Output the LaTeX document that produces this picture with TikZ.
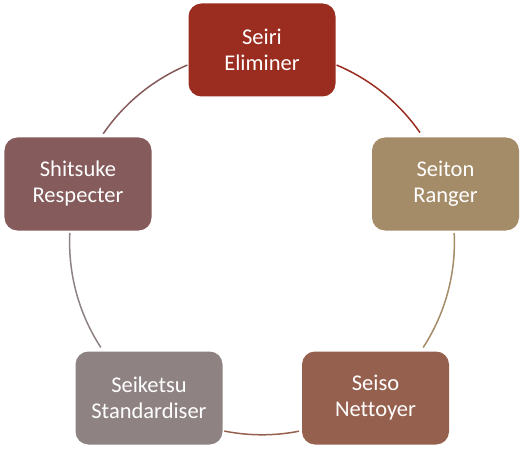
\documentclass[tikz,border=0pt]{standalone}
\usepackage{fontspec}
\setmainfont{Carlito}[Ligatures={NoCommon}]
\definecolor{cA}{HTML}{9B2D20}
\definecolor{cB}{HTML}{A58C69}
\definecolor{cC}{HTML}{96604F}
\definecolor{cD}{HTML}{8E8282}
\definecolor{cE}{HTML}{855B5C}
\begin{document}
\begin{tikzpicture}[x=1bp,y=-1bp,
  stepbox/.style={rounded corners=13bp,minimum width=147bp,minimum height=93bp,
    text=white,align=center,inner sep=0pt,
    font=\fontsize{22.5bp}{26bp}\selectfont},
  link/.style={line width=1.5bp}]
\useasboundingbox (0,0) rectangle (525,452);
\coordinate (c) at (262,242.4);
\def\R{192.4}
\node[stepbox,fill=cA] (seiri) at (262,50) {Seiri\\Eliminer};
\node[stepbox,fill=cB] (seiton) at (445.5,184) {Seiton\\Ranger};
\node[stepbox,fill=cC] (seiso) at (375.5,398) {Seiso\\Nettoyer};
\node[stepbox,fill=cD] (seiketsu) at (149,398) {Seiketsu\\Standardiser};
\node[stepbox,fill=cE] (shitsuke) at (78,184) {Shitsuke\\Respecter};
\begin{scope}[x=1bp,y=1bp]
\draw[link,cA] ([shift={(67.2:\R)}]c) arc[start angle=67.2,end angle=34.8,radius=\R];
\draw[link,cB] ([shift={(2.8:\R)}]c) arc[start angle=2.8,end angle=-33.1,radius=\R];
\draw[link,cC] ([shift={(-78.9:\R)}]c) arc[start angle=-78.9,end angle=-101.3,radius=\R];
\draw[link,cD] ([shift={(-146.9:\R)}]c) arc[start angle=-146.9,end angle=-182.8,radius=\R];
\draw[link,cE] ([shift={(145.6:\R)}]c) arc[start angle=145.6,end angle=112.8,radius=\R];
\end{scope}
\end{tikzpicture}
\end{document}
